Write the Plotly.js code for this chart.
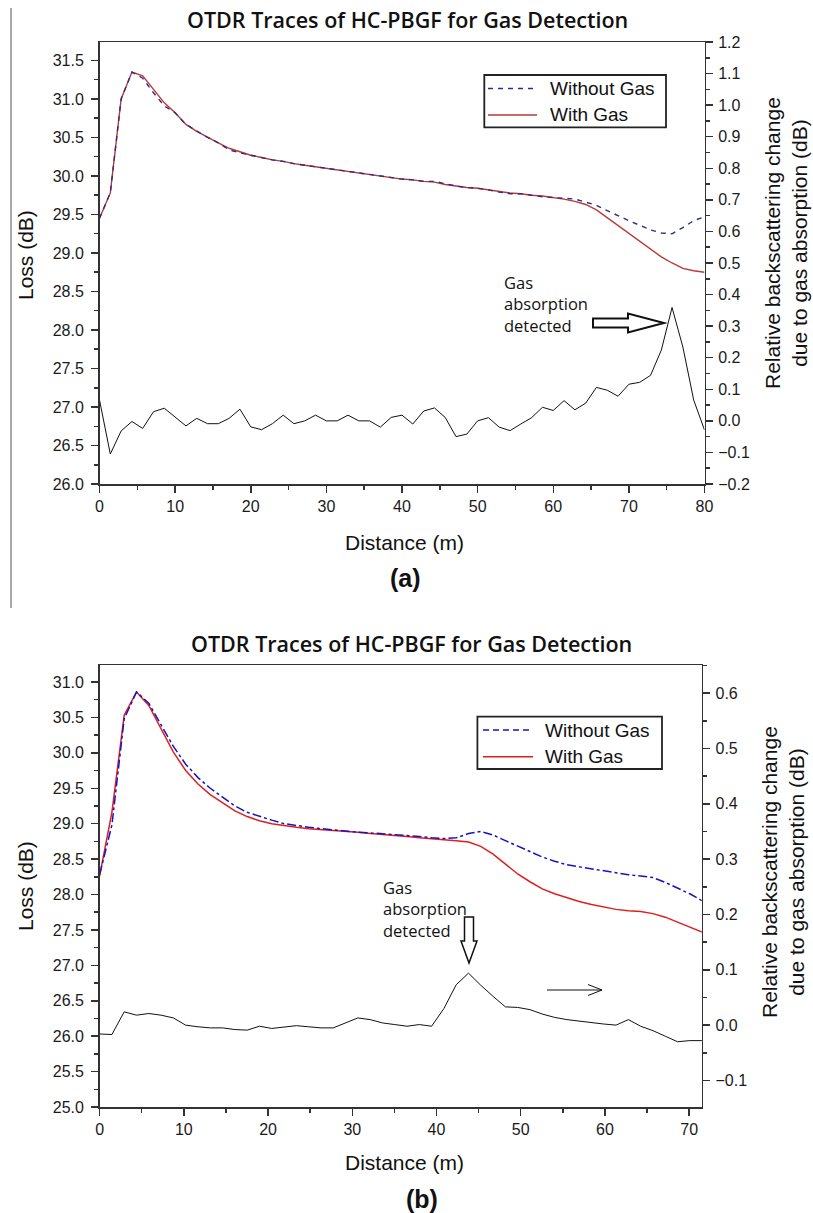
<!DOCTYPE html>
<html>
<head>
<meta charset="utf-8">
<script src="https://cdn.plot.ly/plotly-3.0.1.min.js"></script>
<style>html,body{margin:0;padding:0;background:#fff;}#chart{width:813px;height:1213px;}</style>
</head>
<body>
<div id="chart"></div>
<script>
// ---------- Data ----------
const distA = [0,1.43,2.86,4.29,5.71,7.14,8.57,10,11.43,12.86,14.29,15.71,17.14,18.57,20,21.43,22.86,24.29,25.71,27.14,28.57,30,31.43,32.86,34.29,35.71,37.14,38.57,40,41.43,42.86,44.29,45.71,47.14,48.57,50,51.43,52.86,54.29,55.71,57.14,58.57,60,61.43,62.86,64.29,65.71,67.14,68.57,70,71.43,72.86,74.29,75.71,77.14,78.57,80];
const withGasA = [29.45,29.78,31.00,31.35,31.30,31.12,30.95,30.82,30.67,30.58,30.50,30.43,30.36,30.31,30.27,30.24,30.21,30.19,30.16,30.14,30.12,30.10,30.08,30.06,30.04,30.02,30.00,29.98,29.96,29.95,29.93,29.92,29.89,29.87,29.85,29.84,29.82,29.80,29.78,29.77,29.75,29.74,29.72,29.70,29.67,29.63,29.56,29.46,29.35,29.25,29.15,29.05,28.95,28.87,28.80,28.77,28.75];
const withoutGasA = [29.45,29.78,31.00,31.35,31.27,31.08,30.91,30.82,30.67,30.58,30.50,30.43,30.34,30.30,30.27,30.24,30.21,30.19,30.16,30.14,30.12,30.10,30.08,30.06,30.04,30.02,30.00,29.98,29.96,29.95,29.93,29.93,29.90,29.87,29.85,29.84,29.82,29.79,29.77,29.77,29.75,29.73,29.72,29.71,29.70,29.66,29.62,29.55,29.48,29.42,29.36,29.30,29.26,29.25,29.33,29.42,29.47];
const diffA = [0.066,-0.105,-0.032,-0.002,-0.024,0.029,0.040,0.013,-0.016,0.008,-0.009,-0.009,0.008,0.037,-0.019,-0.028,-0.009,0.018,-0.009,0.000,0.018,0.000,0.000,0.018,0.000,0.000,-0.020,0.011,0.018,-0.010,0.031,0.041,0.011,-0.050,-0.042,0.000,0.010,-0.020,-0.031,-0.010,0.010,0.043,0.033,0.064,0.035,0.056,0.106,0.097,0.078,0.116,0.122,0.144,0.224,0.359,0.234,0.066,-0.029];

const distB = [0,1.46,2.92,4.38,5.84,7.3,8.76,10.22,11.68,13.14,14.6,16.06,17.52,18.98,20.44,21.9,23.36,24.82,26.28,27.74,29.2,30.66,32.12,33.58,35.04,36.5,37.96,39.42,40.88,42.34,43.8,45.26,46.72,48.18,49.64,51.1,52.56,54.02,55.48,56.94,58.4,59.86,61.32,62.78,64.24,65.7,67.16,68.62,70.08,71.54];
const withGasB = [28.26,29.16,30.53,30.86,30.67,30.35,30.01,29.75,29.56,29.41,29.30,29.18,29.10,29.04,29.00,28.97,28.95,28.93,28.92,28.90,28.89,28.88,28.86,28.85,28.83,28.82,28.80,28.79,28.77,28.76,28.74,28.68,28.57,28.43,28.29,28.18,28.08,28.01,27.95,27.90,27.86,27.82,27.79,27.77,27.76,27.73,27.68,27.61,27.54,27.47];
const withoutGasB = [28.28,28.98,30.48,30.86,30.70,30.40,30.09,29.84,29.65,29.50,29.37,29.25,29.16,29.10,29.05,29.00,28.97,28.95,28.93,28.91,28.89,28.88,28.87,28.86,28.85,28.83,28.82,28.80,28.79,28.80,28.86,28.89,28.84,28.76,28.68,28.61,28.53,28.47,28.42,28.39,28.36,28.33,28.30,28.28,28.26,28.24,28.17,28.09,28.01,27.91];
const diffB = [-0.016,-0.017,0.024,0.018,0.021,0.018,0.013,0.000,-0.003,-0.005,-0.005,-0.008,-0.009,-0.002,-0.006,-0.003,-0.001,-0.003,-0.005,-0.005,0.004,0.013,0.010,0.004,0.001,-0.002,0.001,-0.002,0.030,0.073,0.094,0.072,0.052,0.033,0.032,0.028,0.020,0.014,0.010,0.007,0.004,0.002,0.000,0.010,-0.002,-0.010,-0.020,-0.030,-0.028,-0.028];

const seriesNames = ['Without Gas','With Gas'];
const chartTitle = 'OTDR Traces of HC-PBGF for Gas Detection';
const leftTitle = 'Loss (dB)';
const rightTitle = 'Relative backscattering change<br>due to gas absorption (dB)';
const xTitle = 'Distance (m)';
const noteText = 'Gas<br>absorption<br>detected';

// ---------- Layout helpers ----------
const W = 813, H = 1213;
const px = v => v / W;
const py = v => 1 - v / H;
const TICKFONT = {family: 'Liberation Sans, Arial, sans-serif', size: 16, color: '#1a1a1a'};
const TITLEFONT = {family: 'Liberation Sans, Arial, sans-serif', size: 21, color: '#111'};
const AX = {
  showline: true, linecolor: '#333', linewidth: 1.5, ticks: 'outside', ticklen: 7, tickwidth: 1.5,
  tickcolor: '#333', showgrid: false, zeroline: false, tickfont: TICKFONT, fixedrange: true
};
function ax(extra) { return Object.assign({}, AX, extra); }
const MINOR = d => ({dtick: d, ticks: 'outside', ticklen: 4, tickwidth: 1.5, tickcolor: '#333'});

const colA = {red: '#b83a36', blue: '#2c2c86'};
const colB = {red: '#e01e1e', blue: '#1515c0'};

const traces = [
  {x: distA, y: withGasA, name: seriesNames[1], type: 'scatter', mode: 'lines', xaxis: 'x', yaxis: 'y',
   line: {color: colA.red, width: 1.4}},
  {x: distA, y: withoutGasA, name: seriesNames[0], type: 'scatter', mode: 'lines', xaxis: 'x', yaxis: 'y',
   line: {color: colA.blue, width: 1.4, dash: '5px,5px'}},
  {x: distA, y: diffA, name: 'Difference', type: 'scatter', mode: 'lines', xaxis: 'x', yaxis: 'y2',
   line: {color: '#111', width: 1}},
  {x: distB, y: withGasB, name: seriesNames[1], type: 'scatter', mode: 'lines', xaxis: 'x2', yaxis: 'y3',
   line: {color: colB.red, width: 1.5}},
  {x: distB, y: withoutGasB, name: seriesNames[0], type: 'scatter', mode: 'lines', xaxis: 'x2', yaxis: 'y3',
   line: {color: colB.blue, width: 1.5, dash: 'dashdot'}},
  {x: distB, y: diffB, name: 'Difference', type: 'scatter', mode: 'lines', xaxis: 'x2', yaxis: 'y4',
   line: {color: '#111', width: 1}}
];

function ann(text, x, y, opts) {
  return Object.assign({text: text, x: px(x), y: py(y), xref: 'paper', yref: 'paper', showarrow: false,
    xanchor: 'center', yanchor: 'middle'}, opts || {});
}
function lineShape(x0, y0, x1, y1, w, c, dash) {
  return {type: 'line', xref: 'paper', yref: 'paper', x0: px(x0), y0: py(y0), x1: px(x1), y1: py(y1),
    line: {color: c || '#111', width: w || 1, dash: dash || 'solid'}};
}
function pathFromPixels(pts) {
  return 'M' + pts.map(p => px(p[0]) + ',' + py(p[1])).join('L') + 'Z';
}

const noteFont = {family: 'Open Sans, Noto Sans, sans-serif', size: 16.5, color: '#111'};
const titleFont = {family: 'Open Sans, Noto Sans, sans-serif', size: 21.5, color: '#111', weight: 600};
const labFont = {family: 'Liberation Sans, Arial, sans-serif', size: 25, color: '#111', weight: 700};
const legFont = {family: 'Liberation Sans, Arial, sans-serif', size: 19, color: '#111'};

// legend boxes drawn from the series names / colours
function legendParts(box, rowY, lineX, textX, cols, blueDash) {
  const sh = [
    {type: 'rect', xref: 'paper', yref: 'paper', x0: px(box[0]), x1: px(box[1]), y0: py(box[3]), y1: py(box[2]),
     fillcolor: '#fff', line: {color: '#222', width: 1.8}},
    lineShape(lineX[0], rowY[0], lineX[1], rowY[0], 1.4, cols.blue, blueDash),
    lineShape(lineX[0], rowY[1], lineX[1], rowY[1], 1.4, cols.red)
  ];
  const an = [
    ann(seriesNames[0], textX, rowY[0], {font: legFont, xanchor: 'left'}),
    ann(seriesNames[1], textX, rowY[1], {font: legFont, xanchor: 'left'})
  ];
  return {sh: sh, an: an};
}
const legA = legendParts([484.3, 666, 75, 127.3], [88.5, 115], [488, 537], 548, colA, '5px,5px');
const legB = legendParts([477.4, 662, 716.7, 769], [730, 756.7], [483, 533], 543, colB, '6px,4px');

const annotations = [
  ann(chartTitle, 407, 20, {font: titleFont}),
  ann(chartTitle, 411, 643, {font: titleFont}),
  ann(leftTitle, 25, 255, {font: TITLEFONT, textangle: -90}),
  ann(leftTitle, 25, 886, {font: TITLEFONT, textangle: -90}),
  ann(rightTitle, 786, 243, {font: TITLEFONT, textangle: -90}),
  ann(rightTitle, 783, 872, {font: TITLEFONT, textangle: -90}),
  ann(xTitle, 404, 542, {font: TITLEFONT}),
  ann(xTitle, 404, 1162, {font: TITLEFONT}),
  ann('(a)', 405, 578, {font: labFont}),
  ann('(b)', 422, 1199, {font: labFont}),
  ann(noteText, 502, 269, {font: noteFont, xanchor: 'left', yanchor: 'top', align: 'left'}),
  ann(noteText, 381, 874, {font: noteFont, xanchor: 'left', yanchor: 'top', align: 'left'})
].concat(legA.an, legB.an);

const shapes = [
  // hollow arrow (a)
  {type: 'path', xref: 'paper', yref: 'paper', fillcolor: '#fff', line: {color: '#111', width: 2},
   path: pathFromPixels([[593,318.5],[628,318.5],[628,313.5],[664,323],[628,332.5],[628,327.5],[593,327.5]])},
  // hollow down arrow (b)
  {type: 'path', xref: 'paper', yref: 'paper', fillcolor: '#fff', line: {color: '#111', width: 1.5},
   path: pathFromPixels([[464.5,917],[473.5,917],[473.5,941],[477,941],[469,963],[461,941],[464.5,941]])},
  // thin arrow (b)
  lineShape(547, 990, 602, 990, 1),
  lineShape(588, 984.5, 602, 990, 1),
  lineShape(588, 995.5, 602, 990, 1),
  // left border line of the original figure
  lineShape(11, 8, 11, 608, 1, '#555')
].concat(legA.sh, legB.sh);

const layout = {
  width: W, height: H, margin: {l: 0, r: 0, t: 0, b: 0}, paper_bgcolor: '#fff', plot_bgcolor: '#fff',
  showlegend: false,
  xaxis: ax({domain: [px(99.5), px(704.5)], range: [0, 80], dtick: 10, tick0: 0, anchor: 'y', mirror: true,
    minor: MINOR(5)}),
  yaxis: ax({domain: [py(484), py(42)], range: [26, 31.74], dtick: 0.5, tick0: 26, tickformat: '.1f', anchor: 'x',
    ticklabelstandoff: 4, minor: MINOR(0.25)}),
  yaxis2: ax({domain: [py(484), py(42)], range: [-0.2, 1.2], dtick: 0.1, tick0: 0, tickformat: '.1f', anchor: 'x',
    overlaying: 'y', side: 'right', ticklabelstandoff: 2, minor: MINOR(0.05)}),
  xaxis2: ax({domain: [px(99.6), px(701.8)], range: [0, 71.5], dtick: 10, tick0: 0, anchor: 'y3', mirror: true,
    minor: MINOR(5)}),
  yaxis3: ax({domain: [py(1107), py(665)], range: [25, 31.24], dtick: 0.5, tick0: 25, tickformat: '.1f', anchor: 'x2',
    ticklabelstandoff: 4, minor: MINOR(0.25)}),
  yaxis4: ax({domain: [py(1107), py(665)], range: [-0.148, 0.651], dtick: 0.1, tick0: 0, tickformat: '.1f', anchor: 'x2',
    overlaying: 'y3', side: 'right', ticklabelstandoff: 2, minor: MINOR(0.05)}),
  annotations: annotations,
  shapes: shapes
};

Plotly.newPlot('chart', traces, layout, {displayModeBar: false, staticPlot: true});
</script>
</body>
</html>
